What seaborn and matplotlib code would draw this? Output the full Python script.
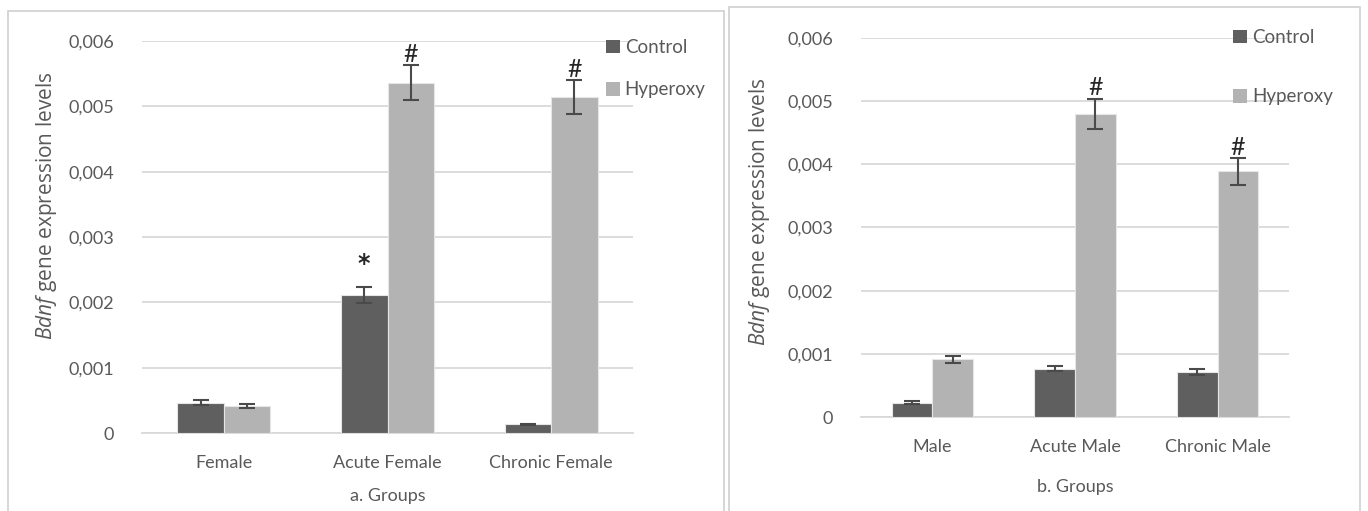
import matplotlib
matplotlib.use("Agg")
import matplotlib.pyplot as plt
import seaborn as sns
import pandas as pd
import numpy as np
from matplotlib.patches import Rectangle
from matplotlib.ticker import FixedLocator

# ---------------- data ----------------
female_groups = ["Female", "Acute Female", "Chronic Female"]
female_control = [0.000464, 0.00211, 0.000133]
female_control_err = [0.00004, 0.00012, 0.00001]
female_hyperoxy = [0.000418, 0.00536, 0.00514]
female_hyperoxy_err = [0.00003, 0.00027, 0.00026]
female_marks_control = ["", "*", ""]
female_marks_hyperoxy = ["", "#", "#"]

male_groups = ["Male", "Acute Male", "Chronic Male"]
male_control = [0.000227, 0.000764, 0.000712]
male_control_err = [0.00002, 0.00004, 0.00004]
male_hyperoxy = [0.000912, 0.0048, 0.00389]
male_hyperoxy_err = [0.00005, 0.00024, 0.00021]
male_marks_control = ["", "", ""]
male_marks_hyperoxy = ["", "#", "#"]

series_names = ["Control", "Hyperoxy"]
y_ticks = [0, 0.001, 0.002, 0.003, 0.004, 0.005, 0.006]
y_tick_labels = ["0", "0,001", "0,002", "0,003", "0,004", "0,005", "0,006"]

# ---------------- style ----------------
sns.set_theme(style="white")
plt.rcParams["font.family"] = ["Lato", "DejaVu Sans"]
plt.rcParams["mathtext.fontset"] = "custom"
plt.rcParams["mathtext.it"] = "Open Sans:italic"
plt.rcParams["mathtext.rm"] = "Open Sans"

DARK = "#5f5f5f"
LIGHT = "#b3b3b3"
GRID = "#d9d9d9"
TXT = "#595959"
W, H = 1368, 511

fig = plt.figure(figsize=(W / 100, H / 100), dpi=100)
fig.patch.set_facecolor("white")


def fx(x):
    return x / W


def fy(y):
    return 1 - y / H


# panel frames
fig.add_artist(Rectangle((fx(8), fy(530)), fx(724) - fx(8), fy(11) - fy(530),
                         transform=fig.transFigure, fill=False, ec="#d0d0d0", lw=1.2))
fig.add_artist(Rectangle((fx(729), fy(530)), fx(1360) - fx(729), fy(7) - fy(530),
                         transform=fig.transFigure, fill=False, ec="#d0d0d0", lw=1.2))


def panel(rect, groups, ctrl, ctrl_err, hyp, hyp_err, mk_c, mk_h, xlabel,
          leg_anchor, leg_spacing, ylab_pos, xlabelpad):
    l, t, r, b = rect
    ax = fig.add_axes([fx(l), fy(b), fx(r) - fx(l), fy(t) - fy(b)])
    df = pd.DataFrame({
        "group": groups * 2,
        "series": [series_names[0]] * 3 + [series_names[1]] * 3,
        "value": list(ctrl) + list(hyp),
    })
    sns.barplot(data=df, x="group", y="value", hue="series", order=groups,
                hue_order=series_names, palette=[DARK, LIGHT], width=0.57,
                errorbar=None, ax=ax, edgecolor="#e6e6e6", linewidth=0.8,
                saturation=1, legend=False, zorder=3)
    errs = list(ctrl_err) + list(hyp_err)
    vals = list(ctrl) + list(hyp)
    marks = list(mk_c) + list(mk_h)
    patches = ax.patches[:6]
    for p, v, e, m in zip(patches, vals, errs, marks):
        xc = p.get_x() + p.get_width() / 2
        ax.errorbar(xc, v, yerr=e, fmt="none", ecolor="#4a4a4a", elinewidth=1.5,
                    capsize=5.5, capthick=1.5, zorder=4)
        if m == "#":
            ax.text(xc, v + e - 0.00001, m, ha="center", va="bottom",
                    fontsize=18, color="#262626", family=["Lato"], zorder=5)
        elif m:
            ax.text(xc, v + e + 0.00018, m, ha="center", va="bottom",
                    fontsize=17, color="#262626", family=["DejaVu Sans"],
                    fontweight="bold", zorder=5)
    ax.set_ylim(0, 0.006)
    ax.set_xlim(-0.5, 2.5)
    ax.yaxis.set_major_locator(FixedLocator(y_ticks))
    ax.set_yticklabels(y_tick_labels)
    ax.grid(axis="y", color=GRID, lw=1.3, zorder=0)
    ax.set_axisbelow(True)
    for s in ["top", "right", "left"]:
        ax.spines[s].set_visible(False)
    ax.spines["bottom"].set_color(GRID)
    ax.spines["bottom"].set_linewidth(1.3)
    ax.tick_params(axis="y", length=0, pad=20, labelsize=13, labelcolor=TXT)
    ax.tick_params(axis="x", length=0, pad=16, labelsize=13, labelcolor=TXT)
    ax.set_xlabel(xlabel, fontsize=13, color=TXT, labelpad=xlabelpad)
    ax.set_ylabel("")
    fig.text(fx(ylab_pos[0]), fy(ylab_pos[1]), r"$\it{Bdnf}$ gene expression levels",
             rotation=90, ha="center", va="center", rotation_mode="anchor",
             fontsize=15, color=TXT, family=["Open Sans"])
    handles = [Rectangle((0, 0), 1, 1, fc=DARK, ec="none"),
               Rectangle((0, 0), 1, 1, fc=LIGHT, ec="none")]
    fig.legend(handles, series_names, loc="upper left",
               bbox_to_anchor=(fx(leg_anchor[0]), fy(leg_anchor[1])),
               bbox_transform=fig.transFigure, frameon=False, fontsize=13.5,
               handlelength=0.75, handleheight=0.75, handletextpad=0.25,
               labelspacing=leg_spacing, labelcolor=TXT, borderpad=0, borderaxespad=0)
    return ax


panel((142, 41, 633, 433), female_groups, female_control, female_control_err,
      female_hyperoxy, female_hyperoxy_err, female_marks_control,
      female_marks_hyperoxy, "a. Groups", (606, 39), 1.35, (47, 206), 12)
panel((861, 38, 1289, 417), male_groups, male_control, male_control_err,
      male_hyperoxy, male_hyperoxy_err, male_marks_control,
      male_marks_hyperoxy, "b. Groups", (1233, 29), 2.25, (759, 212), 17)

fig.savefig("out.png", dpi=100)
